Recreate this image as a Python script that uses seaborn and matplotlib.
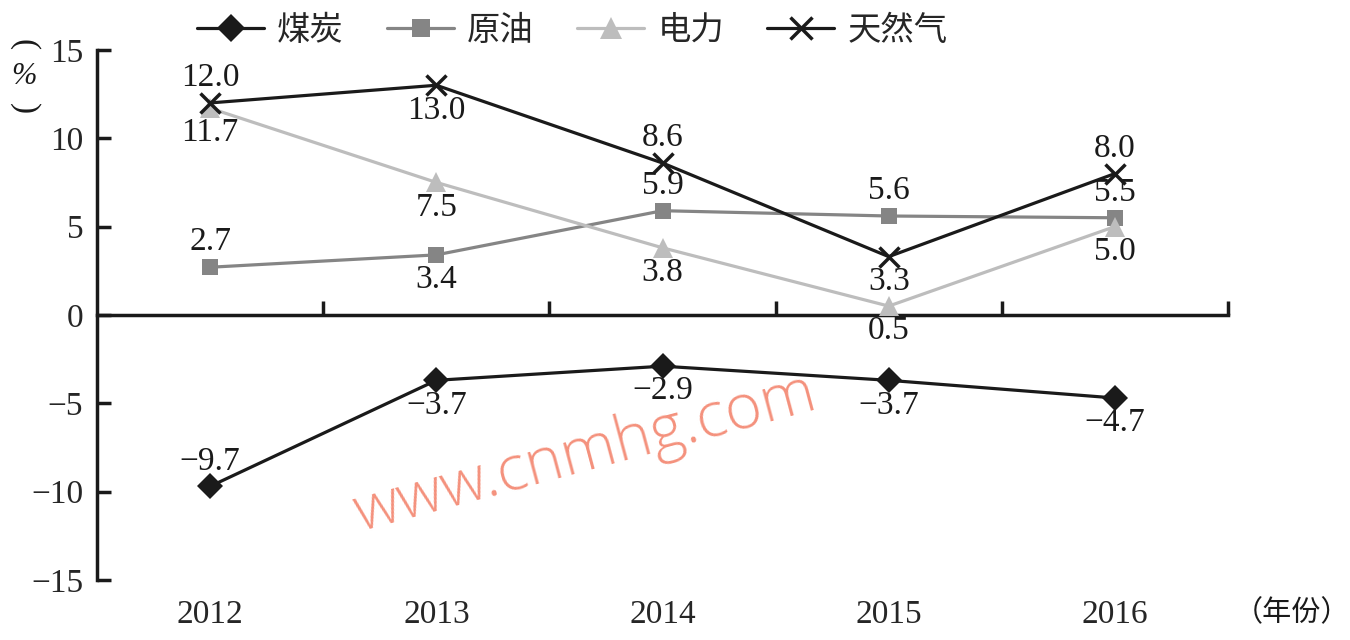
import numpy as np
import pandas as pd
import seaborn as sns
import matplotlib.pyplot as plt

# data
years = ['2012', '2013', '2014', '2015', '2016']
coal = [-9.7, -3.7, -2.9, -3.7, -4.7]
oil = [2.7, 3.4, 5.9, 5.6, 5.5]
power = [11.7, 7.5, 3.8, 0.5, 5.0]
gas = [12.0, 13.0, 8.6, 3.3, 8.0]
series_names = ['煤炭', '原油', '电力', '天然气']

df = pd.DataFrame({
    'x': np.tile(np.arange(len(years)), len(series_names)),
    'val': coal + oil + power + gas,
    'series': np.repeat(series_names, len(years)),
})

sns.set_style('ticks')
plt.rcParams['font.family'] = ['Liberation Serif', 'Noto Sans CJK SC']
plt.rcParams['axes.unicode_minus'] = True

NUM = 'Liberation Serif'
CJK = ['Noto Sans CJK SC', 'DejaVu Sans']

styles = {
    '煤炭': dict(color='#1a1a1a', marker='D', markersize=13, markeredgewidth=0),
    '原油': dict(color='#858585', marker='s', markersize=12, markeredgewidth=0),
    '电力': dict(color='#bdbdbd', marker='^', markersize=14, markeredgewidth=0),
    '天然气': dict(color='#1a1a1a', marker='x', markersize=14, markeredgewidth=2.5),
}
# label placement: +1 above the point, -1 below
label_side = {
    '煤炭': [1, -1, -1, -1, -1],
    '原油': [1, -1, 1, 1, 1],
    '电力': [-1, -1, -1, -1, -1],
    '天然气': [1, -1, 1, -1, 1],
}

fig = plt.figure(figsize=(13.5, 6.4), dpi=100)
ax = fig.add_axes([0.0719, 0.0938, 0.8377, 0.8282])

for name in series_names:
    d = df[df['series'] == name]
    st = styles[name]
    sns.lineplot(data=d, x='x', y='val', ax=ax, label=name, linewidth=2.3,
                 color=st['color'], marker=st['marker'], markersize=st['markersize'],
                 markeredgewidth=st['markeredgewidth'], markeredgecolor=st['color'])
    for xi, v, side in zip(d['x'], d['val'], label_side[name]):
        ax.annotate(f'{v:.1f}'.replace('-', '\u2212'), (xi, v), xytext=(0, 18 * side),
                    textcoords='offset points', ha='center', va='center',
                    fontsize=24, family=NUM, color='#1a1a1a')

ax.set_xlim(-0.5, len(years) - 0.5)
ax.set_ylim(-15, 15)
ax.set_yticks(range(-15, 16, 5))
ax.set_yticklabels([str(t).replace('-', '\u2212') for t in range(-15, 16, 5)], family=NUM)
ax.set_xticks(range(len(years)))
ax.set_xticklabels(years, family=NUM)
ax.set_xlabel('')
ax.set_ylabel('')
ax.tick_params(axis='y', direction='in', length=10, width=2.5, labelsize=24, pad=10, color='#1a1a1a')
ax.tick_params(axis='x', length=0, labelsize=24, pad=14)
for s in ['top', 'right', 'bottom']:
    ax.spines[s].set_visible(False)
ax.spines['left'].set_linewidth(2.5)
ax.spines['left'].set_color('#1a1a1a')

# zero line with boundary ticks
sec = ax.secondary_xaxis(0.5)
sec.set_xticks(np.arange(len(years)) + 0.5)
sec.xaxis.set_ticks_position('bottom')
sec.tick_params(direction='in', length=10, width=2.5, labelbottom=False, labeltop=False, color='#1a1a1a')
for s in sec.spines.values():
    s.set_visible(False)
sec.spines['bottom'].set_visible(True)
sec.spines['bottom'].set_linewidth(2.5)
sec.spines['bottom'].set_color('#1a1a1a')

leg = ax.legend(loc='center', bbox_to_anchor=(0.424, 0.953), bbox_transform=fig.transFigure,
                ncol=4, frameon=False, prop={'family': CJK, 'size': 24},
                handlelength=2.0, columnspacing=1.3, handletextpad=0.4, markerscale=1.1)

# vertical "(%)" unit label
fig.text(0.018, 0.93, '(', rotation=-90, ha='center', va='center', family=NUM, fontsize=24, color='#1a1a1a')
fig.text(0.018, 0.88, '%', ha='center', va='center', family=NUM, fontsize=22, style='italic', color='#1a1a1a')
fig.text(0.018, 0.83, ')', rotation=-90, ha='center', va='center', family=NUM, fontsize=24, color='#1a1a1a')
fig.text(0.957, 0.042, '（年份）', ha='center', va='center', family=CJK, fontsize=21, color='#1a1a1a')

fig.text(0.433, 0.29, 'www.cnmhg.com', ha='center', va='center', rotation=15,
         family=['Open Sans', 'DejaVu Sans'], fontweight='light', fontsize=45, color='#F4917C')

fig.savefig('out.png', dpi=100)
